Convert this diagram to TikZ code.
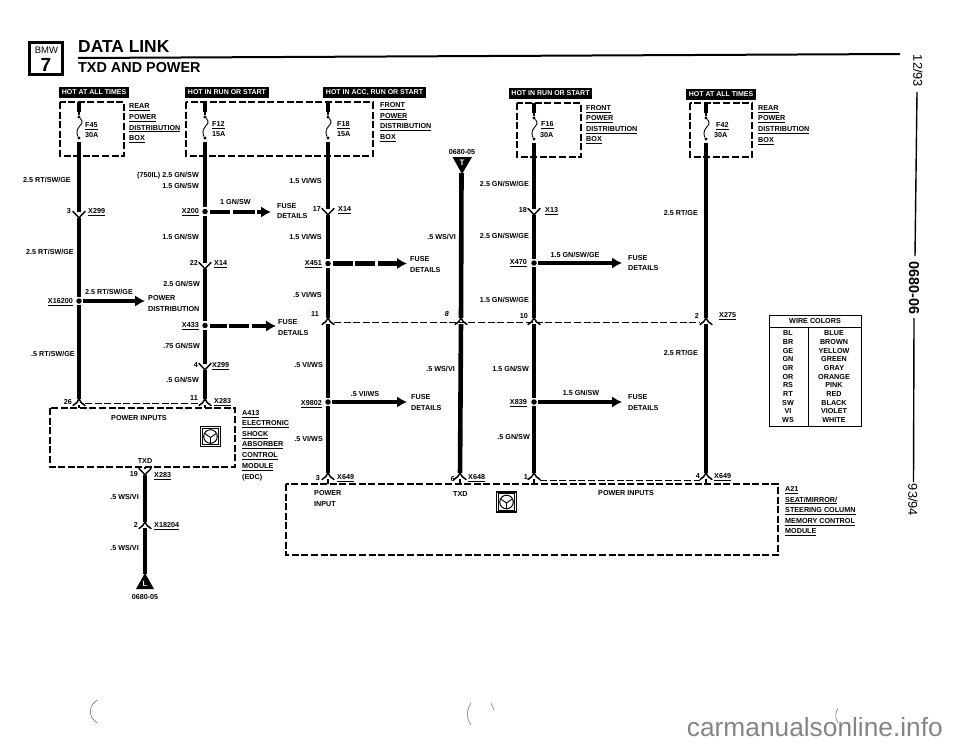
\documentclass[tikz,border=0pt]{standalone}
\usepackage{fontspec}
\setmainfont{Liberation Sans}
\usetikzlibrary{arrows.meta}
\newcounter{lc}
\tikzset{
  lab/.style={font=\bfseries\fontsize{7.2}{8}\selectfont,inner sep=0pt},
  wire/.style={line width=4.6pt},
  fork/.style={line width=1.5pt,line cap=round},
  dbox/.style={line width=1.6pt,dash pattern=on 7pt off 2.6pt},
  tdash/.style={line width=0.9pt,dash pattern=on 7pt off 2.6pt},
  spl/.style={circle,fill=black,inner sep=0pt,minimum size=5.5pt,outer sep=1.4pt},
  jn/.style={inner sep=0pt,minimum width=2pt,minimum height=6pt},
  tabbox/.style={fill=black,text=white,inner sep=0pt,font=\bfseries\fontsize{7}{8}\selectfont},
  arrowwire/.style={line width=4.4pt,-{Latex[length=10pt,width=11.5pt]}},
  faint/.style={line width=0.5pt,black!60},
  sideline/.style={line width=1.4pt}
}
\newcommand\tR[3]{\stepcounter{lc}\node[lab,anchor=base east] (t\arabic{lc}) at (#1,#2+2.6) {#3};}
\newcommand\tL[3]{\stepcounter{lc}\node[lab,anchor=base west] (t\arabic{lc}) at (#1,#2+2.6) {#3};}
\newcommand\tC[3]{\stepcounter{lc}\node[lab,anchor=base] (t\arabic{lc}) at (#1,#2+2.6) {#3};}
\newcommand\und[1]{\underline{#1}}
\newcommand\forkdn[2]{\draw[fork] (#1-6,#2-3.5) .. controls (#1-3,#2) and (#1-1,#2+1) .. (#1,#2+3) .. controls (#1+1,#2+1) and (#1+3,#2) .. (#1+6,#2-3.5);}
\newcommand\forkup[2]{\draw[fork] (#1-6,#2+3.5) .. controls (#1-3,#2+1.5) and (#1-1,#2) .. (#1,#2-3) .. controls (#1+1,#2) and (#1+3,#2+1.5) .. (#1+6,#2+3.5);}
\newcommand\jdn[3]{\node[jn] (#1) at (#2,#3) {}; \forkdn{#2}{#3}}
\newcommand\jup[3]{\node[jn] (#1) at (#2,#3) {}; \forkup{#2}{#3}}
\newcommand\fuse[3]{%
  \coordinate (#1t) at (#2,#3);
  \coordinate (#1a) at (#2,#3+10);
  \coordinate (#1b) at (#2,#3+40);
  \node[circle,fill=black,inner sep=0pt,minimum size=3.4pt] (#1u) at (#2,#3+15) {};
  \node[circle,fill=black,inner sep=0pt,minimum size=3.4pt] (#1d) at (#2,#3+36) {};
  \draw[wire] (#1t) -- (#1a);
  \draw[line width=2.8pt] (#1a) -- (#1u);
  \draw[line width=0.9pt] (#1u) .. controls (#2+5,#3+20) and (#2+2,#3+23) .. (#2,#3+25) .. controls (#2-3,#3+28) and (#2-2,#3+33) .. (#1d);
}
\newcommand\wheel[3]{%
  \node[draw,line width=1.1pt,minimum size=20pt,inner sep=0pt] (#1) at (#2,#3) {};
  \draw[line width=0.7pt] (#2-8.3,#3-8.3) rectangle (#2+8.3,#3+8.3);
  \draw[line width=1pt] (#2,#3) circle (6.8);
  \draw[line width=0.9pt] (#2-5.8,#3-3) -- (#2,#3+1) -- (#2+5.8,#3-3) (#2,#3+1) -- (#2,#3+6.6);
}
\begin{document}
\begin{tikzpicture}[x=1pt,y=-1pt]
\useasboundingbox (0,0) rectangle (960,744);
\fill[white] (0,0) rectangle (960,744);

% ---- header
\node[draw,line width=2.2pt,minimum width=33pt,minimum height=32pt,inner sep=0pt] (bmwbox) at (46,58.5) {};
\node[inner sep=0pt,font=\fontsize{9.5}{10}\selectfont] (bmwtxt) at (46.5,50.5) {BMW};
\node[inner sep=0pt,font=\bfseries\fontsize{19}{20}\selectfont] (bmwnum) at (46,64.5) {7};
\node[anchor=base west,inner sep=0pt,font=\bfseries\fontsize{17.4}{18}\selectfont] (title) at (78,52) {DATA LINK};
\node[anchor=base west,inner sep=0pt,font=\bfseries\fontsize{14.4}{15}\selectfont] (subtitle) at (78,72.5) {TXD AND POWER};
\coordinate (rulea) at (78,58); \coordinate (ruleb) at (900,54);
\draw[line width=2pt] (rulea) -- (ruleb);

% ---- black tabs
\foreach \n/\xa/\xb/\ya/\yb/\txt in {
  tabA/59/129/87/97.5/HOT AT ALL TIMES,
  tabB/185/269/87/97.5/HOT IN RUN OR START,
  tabC/323/426/87/98/{HOT IN ACC, RUN OR START},
  tabD/509/592/88/98.5/HOT IN RUN OR START,
  tabE/686/756/89/99.5/HOT AT ALL TIMES}{
  \pgfmathsetmacro\bw{\xb-\xa}\pgfmathsetmacro\bh{\yb-\ya}
  \pgfmathsetmacro\mx{(\xa+\xb)/2}\pgfmathsetmacro\my{(\ya+\yb)/2}
  \node[tabbox,minimum width=\bw pt,minimum height=\bh pt] (\n) at (\mx,\my) {\txt};
}

% ---- dashed boxes
\draw[dbox] (60,102) rectangle (124,156);
\draw[dbox] (186,102) rectangle (373,156);
\draw[dbox] (517,103) rectangle (581,157);
\draw[dbox] (690,103) rectangle (752,157);
\draw[dbox] (50,408) rectangle (235,467);
\draw[dbox] (286,484) rectangle (778,555);

% ---- fuses
\fuse{fa}{79}{102}
\fuse{fb}{205}{102}
\fuse{fc}{328}{102}
\fuse{fe}{534}{103}
\fuse{ff}{706}{103}

% ---- splices and connectors
\node[spl] (s16200) at (79,301) {};
\node[spl] (s200) at (205,211.5) {};
\node[spl] (s433) at (205,325.5) {};
\node[spl] (s451) at (328,263.5) {};
\node[spl] (s9802) at (328,402) {};
\node[spl] (s470) at (534,263) {};
\node[spl] (s839) at (534,402) {};
\jdn{j299a}{79}{215}
\jup{j26}{79}{402}
\jdn{j14a}{205}{266}
\jdn{j299b}{205}{367}
\jup{j11}{205}{402}
\jdn{j19}{145}{472}
\jup{j18204}{145}{525}
\jdn{j14b}{328}{212}
\jup{j11c}{328}{321}
\jup{j3}{328}{476}
\jup{j8}{461}{321}
\jup{j6}{460}{476}
\jdn{j13}{534}{212}
\jup{j10}{534}{321}
\jup{j1}{534}{476}
\jup{j2}{706}{321}
\jup{j4}{706}{476}

% ---- triangles
\fill (136,589) -- (145,573) -- (154,589) -- cycle;
\coordinate (triL) at (145,574);
\node[inner sep=0pt,text=white,font=\bfseries\fontsize{7.5}{8}\selectfont] (triLt) at (145,583.5) {L};
\fill (452.5,157) -- (472,157) -- (462,174) -- cycle;
\coordinate (triT) at (461.5,173);
\node[inner sep=0pt,text=white,font=\bfseries\fontsize{8}{8}\selectfont] (triTt) at (462,162.5) {T};

% ---- wires
\draw[wire] (fab) -- (j299a) (j299a) -- (s16200) (s16200) -- (j26);
\draw[wire] (fbb) -- (s200) (s200) -- (j14a) (j14a) -- (s433) (s433) -- (j299b) (j299b) -- (j11);
\draw[wire] (j19) -- (j18204) (j18204) -- (triL);
\draw[wire] (fcb) -- (j14b) (j14b) -- (s451) (s451) -- (j11c) (j11c) -- (s9802) (s9802) -- (j3);
\draw[wire] (triT) -- (j8) (j8) -- (j6);
\draw[wire] (feb) -- (j13) (j13) -- (s470) (s470) -- (j10) (j10) -- (s839) (s839) -- (j1);
\draw[wire] (ffb) -- (j2) (j2) -- (j4);

% stubs to modules and thin dashed links
\coordinate (boxA1) at (79,408); \coordinate (boxA2) at (205,408); \coordinate (boxAt) at (145,467);
\coordinate (boxB1) at (328,484); \coordinate (boxB2) at (460,484); \coordinate (boxB3) at (534,484); \coordinate (boxB4) at (706,484);
\draw[line width=1.6pt] (j26) -- (boxA1) (j11) -- (boxA2) (boxAt) -- (j19);
\draw[line width=1.6pt] (j3) -- (boxB1) (j6) -- (boxB2) (j1) -- (boxB3) (j4) -- (boxB4);
\coordinate (da1) at (85,403); \coordinate (da2) at (199,403);
\coordinate (db1) at (334,322); \coordinate (db2) at (700,322);
\coordinate (dc1) at (540,480); \coordinate (dc2) at (700,480);
\draw[tdash] (da1) -- (da2);
\draw[tdash] (db1) -- (db2);
\draw[tdash] (dc1) -- (dc2);

% ---- branch arrows
\coordinate (a1) at (145,301);
\draw[arrowwire] (s16200) -- (a1);
\coordinate (b0) at (210,212); \coordinate (b1) at (230,212); \coordinate (b2) at (233,212); \coordinate (b3) at (255,212); \coordinate (b4) at (257,212); \coordinate (b5) at (271,212);
\draw[line width=4.4pt] (b0) -- (b1) (b2) -- (b3);
\draw[arrowwire] (b4) -- (b5);
\coordinate (c0) at (210,326); \coordinate (c1) at (227,326); \coordinate (c2) at (229,326); \coordinate (c3) at (249,326); \coordinate (c4) at (252,326); \coordinate (c5) at (276,326);
\draw[line width=4.4pt] (c0) -- (c1) (c2) -- (c3);
\draw[arrowwire] (c4) -- (c5);
\coordinate (d0) at (333,263.5); \coordinate (d1) at (353,263.5); \coordinate (d2) at (355,263.5); \coordinate (d3) at (375,263.5); \coordinate (d4) at (378,263.5); \coordinate (d5) at (407,263.5);
\draw[line width=4.4pt] (d0) -- (d1) (d2) -- (d3);
\draw[arrowwire] (d4) -- (d5);
\coordinate (e1) at (407,402);
\draw[arrowwire] (s9802) -- (e1);
\coordinate (f1) at (622,263);
\draw[arrowwire] (s470) -- (f1);
\coordinate (g1) at (622,402);
\draw[arrowwire] (s839) -- (g1);

% ---- icons
\wheel{iconA}{210.5}{436.5}
\wheel{iconB}{506.5}{502}

% ---- labels: box 1
\tL{129}{106}{\und{REAR}}\tL{129}{117}{\und{POWER}}\tL{129}{127.5}{\und{DISTRIBUTION}}\tL{129}{138}{\und{BOX}}
\tL{85}{125}{\und{F45}}\tL{85}{135}{30A}
\tL{212}{124}{\und{F12}}\tL{212}{134}{15A}
\tL{337}{124}{\und{F18}}\tL{337}{134}{15A}
\tL{380}{105}{\und{FRONT}}\tL{380}{115.5}{\und{POWER}}\tL{380}{126}{\und{DISTRIBUTION}}\tL{380}{137}{\und{BOX}}
\tL{541}{124}{\und{F16}}\tL{540}{135}{30A}
\tL{586}{108}{\und{FRONT}}\tL{586}{118}{\und{POWER}}\tL{586}{129}{\und{DISTRIBUTION}}\tL{586}{139}{\und{BOX}}
\tL{716}{125}{\und{F42}}\tL{714}{135}{30A}
\tL{758}{108}{\und{REAR}}\tL{758}{118}{\und{POWER}}\tL{758}{129}{\und{DISTRIBUTION}}\tL{758}{140}{\und{BOX}}

% wire A
\tR{71}{180}{2.5 RT/SW/GE}\tR{71}{211}{3}\tL{88}{211}{\und{X299}}
\tR{74}{252}{2.5 RT/SW/GE}\tL{85}{292}{2.5 RT/SW/GE}\tR{73}{301}{\und{X16200}}
\tL{148}{298}{POWER}\tL{148}{309}{DISTRIBUTION}\tR{75}{354}{.5 RT/SW/GE}\tR{72}{402}{26}

% wire B
\tR{199}{175}{(750IL) 2.5 GN/SW}\tR{199}{186}{1.5 GN/SW}\tR{199}{211}{\und{X200}}
\tL{220}{202}{1 GN/SW}\tL{277}{205.5}{FUSE}\tL{277}{216}{DETAILS}
\tR{199}{237}{1.5 GN/SW}\tR{198}{263}{22}\tL{214}{263}{\und{X14}}
\tR{200}{284}{2.5 GN/SW}\tR{199}{325}{\und{X433}}\tL{278}{322}{FUSE}\tL{278}{333}{DETAILS}
\tR{200}{346}{.75 GN/SW}\tR{198}{365}{4}\tL{212}{365}{\und{X299}}\tR{199}{380}{.5 GN/SW}
\tR{198}{398}{11}\tL{214}{401}{\und{X283}}

% module A413
\tC{139}{418}{POWER INPUTS}\tC{145}{461}{TXD}
\tL{242}{413}{\und{A413}}\tL{242}{423}{\und{ELECTRONIC}}\tL{242}{434}{\und{SHOCK}}\tL{242}{444}{\und{ABSORBER}}
\tL{242}{455}{\und{CONTROL}}\tL{242}{466}{\und{MODULE}}\tL{242}{477}{(EDC)}
\tR{138}{474}{19}\tL{154}{475}{\und{X283}}\tR{139}{497}{.5 WS/VI}
\tR{138}{525}{2}\tL{154}{525}{\und{X18204}}\tR{139}{548}{.5 WS/VI}\tC{145}{597}{0680-05}

% wire C
\tR{322}{181}{1.5 VI/WS}\tR{321}{209}{17}\tL{338}{209}{\und{X14}}\tR{322}{237}{1.5 VI/WS}
\tR{322}{263}{\und{X451}}\tL{410}{259}{FUSE}\tL{410}{270}{DETAILS}\tR{322}{295}{.5 VI/WS}\tR{319}{314}{11}
\tR{323}{365}{.5 VI/WS}\tR{322}{403}{\und{X9802}}\tC{365}{394}{.5 VI/WS}\tL{411}{397}{FUSE}\tL{411}{408}{DETAILS}
\tR{323}{439}{.5 VI/WS}\tR{320}{478}{3}\tL{337}{477}{\und{X649}}
\tL{314}{493}{POWER}\tL{314}{503.5}{INPUT}

% wire D
\tC{462}{152}{0680-05}\tR{456}{237}{.5 WS/VI}\tR{449}{314}{\textit{8}}\tR{455}{369}{.5 WS/VI}
\tR{455}{479}{6}\tL{468}{477}{\und{X648}}\tL{453}{494}{TXD}

% wire E
\tR{529}{184}{2.5 GN/SW/GE}\tR{527}{210}{18}\tL{545}{210}{\und{X13}}\tR{529}{236}{2.5 GN/SW/GE}
\tR{527}{262}{\und{X470}}\tC{575}{255}{1.5 GN/SW/GE}\tL{628}{258}{FUSE}\tL{628}{268}{DETAILS}
\tR{529}{300}{1.5 GN/SW/GE}\tR{528}{316}{10}\tR{529}{369}{1.5 GN/SW}\tR{527}{402}{\und{X839}}
\tC{581}{393}{1.5 GN/SW}\tL{628}{397}{FUSE}\tL{628}{408}{DETAILS}\tR{530}{437}{.5 GN/SW}\tR{528}{477}{1}

% wire F
\tR{698}{213}{2.5 RT/GE}\tR{699}{316}{2}\tL{719}{315}{\und{X275}}\tR{698}{353}{2.5 RT/GE}
\tR{700}{476}{4}\tL{714}{476}{\und{X649}}\tC{626}{493}{POWER INPUTS}
\tL{785}{489}{\und{A21}}\tL{785}{499.5}{\und{SEAT/MIRROR/}}\tL{785}{510}{\und{STEERING COLUMN}}
\tL{785}{521}{\und{MEMORY CONTROL}}\tL{785}{531}{\und{MODULE}}

% ---- wire colour table
\draw[line width=0.8pt] (769,315) rectangle (861,426);
\draw[line width=0.8pt] (769,327) -- (861,327) (808,327) -- (808,426);
\tC{815}{321}{WIRE COLORS}
\foreach \a/\b [count=\i from 0] in {BL/BLUE,BR/BROWN,GE/YELLOW,GN/GREEN,GR/GRAY,OR/ORANGE,RS/PINK,RT/RED,SW/BLACK,VI/VIOLET,WS/WHITE}{
  \pgfmathsetmacro\yy{333+8.7*\i}
  \tC{788}{\yy}{\a}\tC{834}{\yy}{\b}
}

% ---- right margin
\node[rotate=-90,inner sep=0pt,font=\fontsize{12.8}{13}\selectfont] (date1) at (918,71) {12/93};
\node[rotate=-90,inner sep=0pt,font=\bfseries\fontsize{14.4}{15}\selectfont] (pageid) at (914,288) {0680-06};
\node[rotate=-90,inner sep=0pt,font=\fontsize{12.8}{13}\selectfont] (date2) at (913,500) {93/94};
\coordinate (sa) at (917,92); \coordinate (sb) at (915,256); \coordinate (sc) at (914,318); \coordinate (sd) at (913.5,482);
\draw[sideline] (sa) -- (sb);
\draw[sideline] (sc) -- (sd);

% ---- scan marks and watermark
\node[anchor=base east,inner sep=0pt,text=black!48,font=\fontsize{26.3}{27}\selectfont] (wm) at (943,736) {carmanualsonline.info};
\draw[faint] (97,700) .. controls (88,707) and (88,716) .. (97,723);
\draw[faint] (471,703) .. controls (466,711) and (466,718) .. (471,725);
\draw[faint] (491,703) -- (494,710);
\draw[faint] (838,708) .. controls (835,713) and (835,718) .. (838,723);
\end{tikzpicture}
\end{document}
